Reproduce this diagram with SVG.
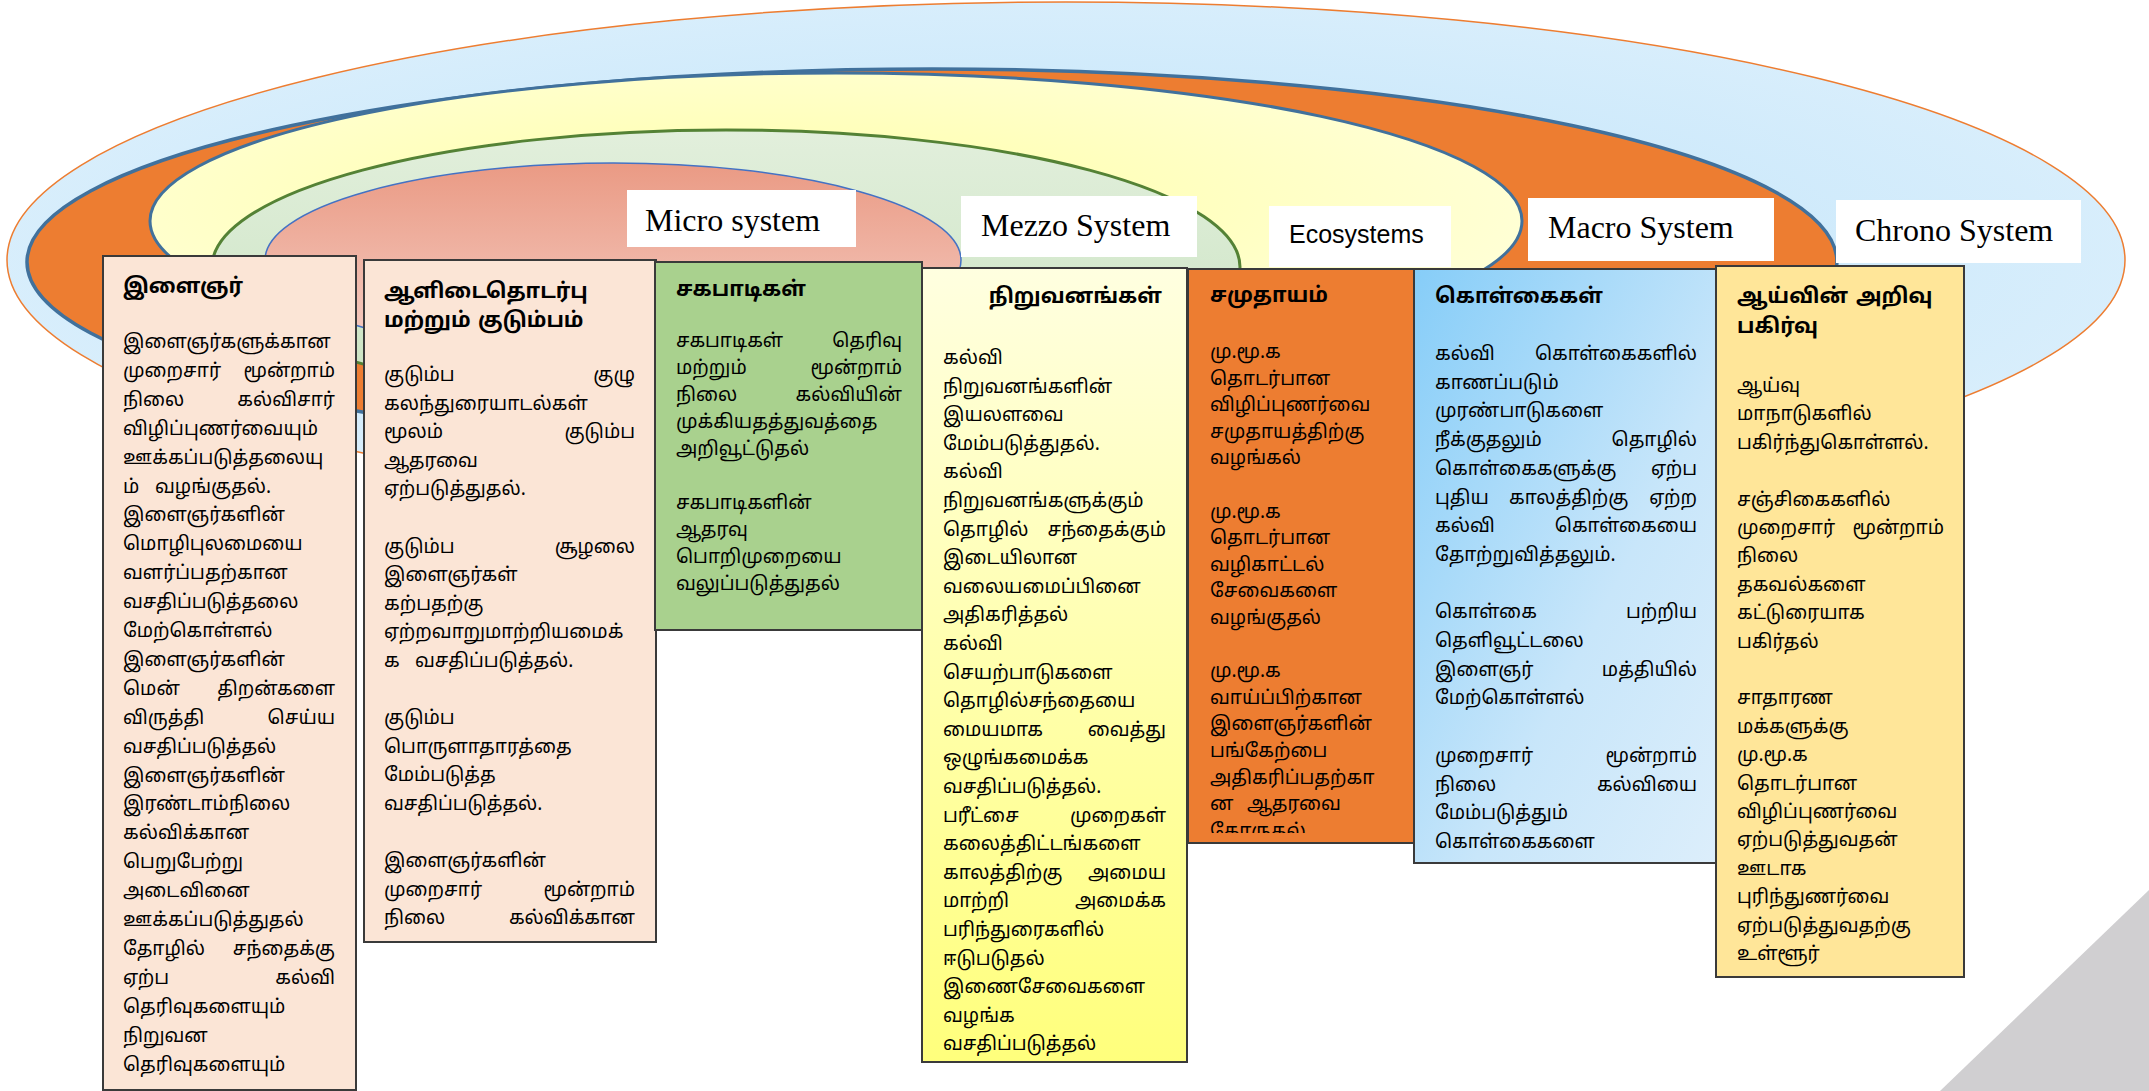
<svg xmlns="http://www.w3.org/2000/svg" width="2149" height="1091" viewBox="0 0 2149 1091">
<defs>
<radialGradient id="gOuter" cx="0.5" cy="0.5" r="0.6">
<stop offset="0" stop-color="#BCE2FA"/><stop offset="1" stop-color="#DDF0FC"/>
</radialGradient>
<radialGradient id="gYellow" cx="0.45" cy="0.45" r="0.6">
<stop offset="0" stop-color="#FFFFA6"/><stop offset="1" stop-color="#FFFFD8"/>
</radialGradient>
<linearGradient id="gGreen" x1="0" y1="0" x2="0" y2="1">
<stop offset="0" stop-color="#E2EFDC"/><stop offset="1" stop-color="#C9E3C1"/>
</linearGradient>
<linearGradient id="gPink" x1="0" y1="0" x2="0" y2="1">
<stop offset="0" stop-color="#EA9A84"/><stop offset="1" stop-color="#F5CFC6"/>
</linearGradient>
<linearGradient id="gBox4" x1="0" y1="0" x2="0" y2="1">
<stop offset="0" stop-color="#FFFFE0"/><stop offset="1" stop-color="#FFFF7C"/>
</linearGradient>
<linearGradient id="gBox6" x1="0" y1="0" x2="1" y2="1">
<stop offset="0" stop-color="#86CDF8"/><stop offset="0.6" stop-color="#C8E6FA"/><stop offset="1" stop-color="#DCEEFB"/>
</linearGradient>
<clipPath id="clip5"><rect x="1188" y="269" width="226" height="564"/></clipPath>
<style>
.box{stroke:#3A3A3A;stroke-width:2}
.b{font-family:"Noto Sans Tamil","Lohit Tamil","Noto Serif Tamil","Noto Sans",sans-serif;font-size:19px;fill:#000}
.t{font-family:"Noto Sans Tamil","Lohit Tamil","Noto Sans",sans-serif;font-size:21px;font-weight:bold;fill:#000}
.e{text-anchor:end}
.lab{font-family:"Liberation Serif","Times New Roman",serif;font-size:32px;fill:#000}
.eco{font-family:"Liberation Sans",Arial,sans-serif;font-size:25px;fill:#000}
</style>
</defs>
<rect width="2149" height="1091" fill="#FFFFFF"/>

<g id="rings">
<ellipse cx="1066" cy="260" rx="1059" ry="258" fill="url(#gOuter)" stroke="#ED7D31" stroke-width="1.5"/>
<ellipse cx="932" cy="262" rx="905" ry="193" fill="#ED7D31" stroke="#41719C" stroke-width="3.5"/>
<ellipse cx="836" cy="221" rx="686" ry="148" fill="url(#gYellow)" stroke="#41719C" stroke-width="3"/>
<ellipse cx="726" cy="267" rx="514" ry="137" fill="url(#gGreen)" stroke="#548235" stroke-width="3"/>
<ellipse cx="613" cy="260" rx="348" ry="97" fill="url(#gPink)" stroke="#4472C4" stroke-width="1.5"/>
</g>

<g id="labels">
<rect x="627" y="190" width="229" height="57" fill="#FFFFFF"/>
<text class="lab" x="645" y="231">Micro system</text>
<rect x="961" y="196" width="236" height="61" fill="#FFFFFF"/>
<text class="lab" x="981" y="236">Mezzo System</text>
<rect x="1269" y="206" width="182" height="61" fill="#FFFFFF"/>
<text class="eco" x="1289" y="243">Ecosystems</text>
<rect x="1528" y="198" width="246" height="63" fill="#FFFFFF"/>
<text class="lab" x="1548" y="238">Macro System</text>
<rect x="1836" y="200" width="245" height="63" fill="#FFFFFF"/>
<text class="lab" x="1855" y="241">Chrono System</text>
</g>

<g id="box-youth">
<rect class="box" x="103" y="256" width="253" height="834" fill="#FBE5D6"/>
<text class="t" x="123" y="293">இளைஞர்</text>
<text class="b" x="123" y="348">இளைஞர்களுக்கான</text>
<text class="b" x="123" y="376.9">முறைசார்</text><text class="b e" x="335" y="376.9">மூன்றாம்</text>
<text class="b" x="123" y="405.8">நிலை</text><text class="b e" x="335" y="405.8">கல்விசார்</text>
<text class="b" x="123" y="434.7">விழிப்புணர்வையும்</text>
<text class="b" x="123" y="463.6">ஊக்கப்படுத்தலையு</text>
<text class="b" x="123" y="492.5">ம்</text><text class="b" x="155" y="492.5">வழங்குதல்.</text>
<text class="b" x="123" y="521.4">இளைஞர்களின்</text>
<text class="b" x="123" y="550.3">மொழிபுலமையை</text>
<text class="b" x="123" y="579.2">வளர்ப்பதற்கான</text>
<text class="b" x="123" y="608.1">வசதிப்படுத்தலை</text>
<text class="b" x="123" y="637">மேற்கொள்ளல்</text>
<text class="b" x="123" y="665.9">இளைஞர்களின்</text>
<text class="b" x="123" y="694.8">மென்</text><text class="b e" x="335" y="694.8">திறன்களை</text>
<text class="b" x="123" y="723.7">விருத்தி</text><text class="b e" x="335" y="723.7">செய்ய</text>
<text class="b" x="123" y="752.6">வசதிப்படுத்தல்</text>
<text class="b" x="123" y="781.5">இளைஞர்களின்</text>
<text class="b" x="123" y="810.4">இரண்டாம்நிலை</text>
<text class="b" x="123" y="839.3">கல்விக்கான</text>
<text class="b" x="123" y="868.2">பெறுபேற்று</text>
<text class="b" x="123" y="897.1">அடைவினை</text>
<text class="b" x="123" y="926">ஊக்கப்படுத்துதல்</text>
<text class="b" x="123" y="954.9">தோழில்</text><text class="b e" x="335" y="954.9">சந்தைக்கு</text>
<text class="b" x="123" y="983.8">ஏற்ப</text><text class="b e" x="335" y="983.8">கல்வி</text>
<text class="b" x="123" y="1012.7">தெரிவுகளையும்</text>
<text class="b" x="123" y="1041.6">நிறுவன</text>
<text class="b" x="123" y="1070.5">தெரிவுகளையும்</text>
</g>

<g id="box-family">
<rect class="box" x="364" y="260" width="292" height="682" fill="#FBE5D6"/>
<text class="t" x="384" y="298">ஆளிடைதொடர்பு</text>
<text class="t" x="384" y="327">மற்றும்</text><text class="t" x="478" y="327">குடும்பம்</text>
<text class="b" x="384" y="381">குடும்ப</text><text class="b e" x="635" y="381">குழு</text>
<text class="b" x="384" y="409.6">கலந்துரையாடல்கள்</text>
<text class="b" x="384" y="438.2">மூலம்</text><text class="b e" x="635" y="438.2">குடும்ப</text>
<text class="b" x="384" y="466.8">ஆதரவை</text>
<text class="b" x="384" y="495.4">ஏற்படுத்துதல்.</text>
<text class="b" x="384" y="552.6">குடும்ப</text><text class="b e" x="635" y="552.6">சூழலை</text>
<text class="b" x="384" y="581.2">இளைஞர்கள்</text>
<text class="b" x="384" y="609.8">கற்பதற்கு</text>
<text class="b" x="384" y="638.4">ஏற்றவாறுமாற்றியமைக்</text>
<text class="b" x="384" y="667">க</text><text class="b" x="415" y="667">வசதிப்படுத்தல்.</text>
<text class="b" x="384" y="724.2">குடும்ப</text>
<text class="b" x="384" y="752.8">பொருளாதாரத்தை</text>
<text class="b" x="384" y="781.4">மேம்படுத்த</text>
<text class="b" x="384" y="810">வசதிப்படுத்தல்.</text>
<text class="b" x="384" y="867.2">இளைஞர்களின்</text>
<text class="b" x="384" y="895.8">முறைசார்</text><text class="b e" x="635" y="895.8">மூன்றாம்</text>
<text class="b" x="384" y="924.4">நிலை</text><text class="b e" x="635" y="924.4">கல்விக்கான</text>
</g>

<g id="box-peers">
<rect class="box" x="655" y="262" width="267" height="368" fill="#A9D18E"/>
<text class="t" x="676" y="296">சகபாடிகள்</text>
<text class="b" x="676" y="347">சகபாடிகள்</text><text class="b e" x="902" y="347">தெரிவு</text>
<text class="b" x="676" y="374">மற்றும்</text><text class="b e" x="902" y="374">மூன்றாம்</text>
<text class="b" x="676" y="401">நிலை</text><text class="b e" x="902" y="401">கல்வியின்</text>
<text class="b" x="676" y="428">முக்கியதத்துவத்தை</text>
<text class="b" x="676" y="455">அறிவூட்டுதல்</text>
<text class="b" x="676" y="509">சகபாடிகளின்</text>
<text class="b" x="676" y="536">ஆதரவு</text>
<text class="b" x="676" y="563">பொறிமுறையை</text>
<text class="b" x="676" y="590">வலுப்படுத்துதல்</text>
</g>

<g id="box-institutions">
<rect class="box" x="922" y="268" width="265" height="794" fill="url(#gBox4)"/>
<text class="t e" x="1162" y="303">நிறுவனங்கள்</text>
<text class="b" x="943" y="364">கல்வி</text>
<text class="b" x="943" y="392.6">நிறுவனங்களின்</text>
<text class="b" x="943" y="421.2">இயலளவை</text>
<text class="b" x="943" y="449.8">மேம்படுத்துதல்.</text>
<text class="b" x="943" y="478.4">கல்வி</text>
<text class="b" x="943" y="507">நிறுவனங்களுக்கும்</text>
<text class="b" x="943" y="535.6">தொழில்</text><text class="b e" x="1166" y="535.6">சந்தைக்கும்</text>
<text class="b" x="943" y="564.2">இடையிலான</text>
<text class="b" x="943" y="592.8">வலையமைப்பினை</text>
<text class="b" x="943" y="621.4">அதிகரித்தல்</text>
<text class="b" x="943" y="650">கல்வி</text>
<text class="b" x="943" y="678.6">செயற்பாடுகளை</text>
<text class="b" x="943" y="707.2">தொழில்சந்தையை</text>
<text class="b" x="943" y="735.8">மையமாக</text><text class="b e" x="1166" y="735.8">வைத்து</text>
<text class="b" x="943" y="764.4">ஒழுங்கமைக்க</text>
<text class="b" x="943" y="793">வசதிப்படுத்தல்.</text>
<text class="b" x="943" y="821.6">பரீட்சை</text><text class="b e" x="1166" y="821.6">முறைகள்</text>
<text class="b" x="943" y="850.2">கலைத்திட்டங்களை</text>
<text class="b" x="943" y="878.8">காலத்திற்கு</text><text class="b e" x="1166" y="878.8">அமைய</text>
<text class="b" x="943" y="907.4">மாற்றி</text><text class="b e" x="1166" y="907.4">அமைக்க</text>
<text class="b" x="943" y="936">பரிந்துரைகளில்</text>
<text class="b" x="943" y="964.6">ஈடுபடுதல்</text>
<text class="b" x="943" y="993.2">இணைசேவைகளை</text>
<text class="b" x="943" y="1021.8">வழங்க</text>
<text class="b" x="943" y="1050.4">வசதிப்படுத்தல்</text>
</g>

<g id="box-community">
<rect class="box" x="1188" y="269" width="226" height="574" fill="#ED7D31"/>
<text class="t" x="1210" y="302">சமுதாயம்</text>
<g clip-path="url(#clip5)">
<text class="b" x="1210" y="358">மு.மூ.க</text>
<text class="b" x="1210" y="384.6">தொடர்பான</text>
<text class="b" x="1210" y="411.2">விழிப்புணர்வை</text>
<text class="b" x="1210" y="437.8">சமுதாயத்திற்கு</text>
<text class="b" x="1210" y="464.4">வழங்கல்</text>
<text class="b" x="1210" y="517.6">மு.மூ.க</text>
<text class="b" x="1210" y="544.2">தொடர்பான</text>
<text class="b" x="1210" y="570.8">வழிகாட்டல்</text>
<text class="b" x="1210" y="597.4">சேவைகளை</text>
<text class="b" x="1210" y="624">வழங்குதல்</text>
<text class="b" x="1210" y="677.2">மு.மூ.க</text>
<text class="b" x="1210" y="703.8">வாய்ப்பிற்கான</text>
<text class="b" x="1210" y="730.4">இளைஞர்களின்</text>
<text class="b" x="1210" y="757">பங்கேற்பை</text>
<text class="b" x="1210" y="783.6">அதிகரிப்பதற்கா</text>
<text class="b" x="1210" y="810.2">ன</text><text class="b" x="1247" y="810.2">ஆதரவை</text>
<text class="b" x="1210" y="836.8">கோருதல்</text>
</g>
</g>

<g id="box-policies">
<rect class="box" x="1414" y="269" width="302" height="594" fill="url(#gBox6)"/>
<text class="t" x="1435" y="303">கொள்கைகள்</text>
<text class="b" x="1435" y="360">கல்வி</text><text class="b e" x="1697" y="360">கொள்கைகளில்</text>
<text class="b" x="1435" y="388.7">காணப்படும்</text>
<text class="b" x="1435" y="417.4">முரண்பாடுகளை</text>
<text class="b" x="1435" y="446.1">நீக்குதலும்</text><text class="b e" x="1697" y="446.1">தொழில்</text>
<text class="b" x="1435" y="474.8">கொள்கைகளுக்கு</text><text class="b e" x="1697" y="474.8">ஏற்ப</text>
<text class="b" x="1435" y="503.5">புதிய</text><text class="b" x="1509" y="503.5">காலத்திற்கு</text><text class="b e" x="1697" y="503.5">ஏற்ற</text>
<text class="b" x="1435" y="532.2">கல்வி</text><text class="b e" x="1697" y="532.2">கொள்கையை</text>
<text class="b" x="1435" y="560.9">தோற்றுவித்தலும்.</text>
<text class="b" x="1435" y="618.3">கொள்கை</text><text class="b e" x="1697" y="618.3">பற்றிய</text>
<text class="b" x="1435" y="647">தெளிவூட்டலை</text>
<text class="b" x="1435" y="675.7">இளைஞர்</text><text class="b e" x="1697" y="675.7">மத்தியில்</text>
<text class="b" x="1435" y="704.4">மேற்கொள்ளல்</text>
<text class="b" x="1435" y="761.8">முறைசார்</text><text class="b e" x="1697" y="761.8">மூன்றாம்</text>
<text class="b" x="1435" y="790.5">நிலை</text><text class="b e" x="1697" y="790.5">கல்வியை</text>
<text class="b" x="1435" y="819.2">மேம்படுத்தும்</text>
<text class="b" x="1435" y="847.9">கொள்கைகளை</text>
</g>

<g id="box-research">
<rect class="box" x="1716" y="266" width="248" height="711" fill="#FFE699"/>
<text class="t" x="1737" y="303">ஆய்வின்</text><text class="t" x="1856" y="303">அறிவு</text>
<text class="t" x="1737" y="333">பகிர்வு</text>
<text class="b" x="1737" y="392">ஆய்வு</text>
<text class="b" x="1737" y="420.4">மாநாடுகளில்</text>
<text class="b" x="1737" y="448.8">பகிர்ந்துகொள்ளல்.</text>
<text class="b" x="1737" y="505.6">சஞ்சிகைகளில்</text>
<text class="b" x="1737" y="534">முறைசார்</text><text class="b e" x="1944" y="534">மூன்றாம்</text>
<text class="b" x="1737" y="562.4">நிலை</text>
<text class="b" x="1737" y="590.8">தகவல்களை</text>
<text class="b" x="1737" y="619.2">கட்டுரையாக</text>
<text class="b" x="1737" y="647.6">பகிர்தல்</text>
<text class="b" x="1737" y="704.4">சாதாரண</text>
<text class="b" x="1737" y="732.8">மக்களுக்கு</text>
<text class="b" x="1737" y="761.2">மு.மூ.க</text>
<text class="b" x="1737" y="789.6">தொடர்பான</text>
<text class="b" x="1737" y="818">விழிப்புணர்வை</text>
<text class="b" x="1737" y="846.4">ஏற்படுத்துவதன்</text>
<text class="b" x="1737" y="874.8">ஊடாக</text>
<text class="b" x="1737" y="903.2">புரிந்துணர்வை</text>
<text class="b" x="1737" y="931.6">ஏற்படுத்துவதற்கு</text>
<text class="b" x="1737" y="960">உள்ளூர்</text>
</g>

<polygon id="corner" points="2149,890 2149,1091 1940,1091" fill="#D0CFD1"/>
</svg>
